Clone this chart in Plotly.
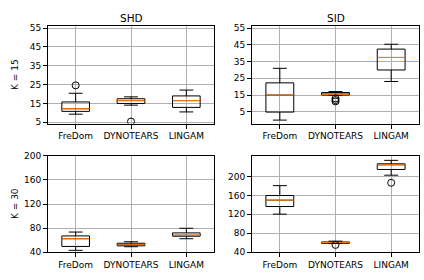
import plotly.graph_objects as go

methods = ["FreDom", "DYNOTEARS", "LINGAM"]
col_titles = ["SHD", "SID"]
row_titles = ["K = 15", "K = 30"]

# K = 15, SHD
shd15_q1 = [10.8, 15.0, 12.9]
shd15_med = [12.2, 16.5, 16.5]
shd15_q3 = [15.8, 17.5, 19.0]
shd15_lo = [9.3, 14.1, 10.5]
shd15_hi = [20.4, 18.5, 22.1]
shd15_out = [[24.6], [5.4], []]

# K = 15, SID
sid15_q1 = [4.8, 15.0, 30.0]
sid15_med = [15.0, 15.4, 37.5]
sid15_q3 = [22.3, 16.5, 42.5]
sid15_lo = [0.0, 15.0, 23.1]
sid15_hi = [31.0, 17.1, 45.4]
sid15_out = [[], [13.0, 12.0, 11.2], []]

# K = 30, SHD
shd30_q1 = [49.5, 50.5, 66.5]
shd30_med = [62.3, 52.3, 68.0]
shd30_q3 = [67.0, 54.8, 72.0]
shd30_lo = [43.0, 49.0, 62.3]
shd30_hi = [73.4, 57.3, 79.7]
shd30_out = [[], [], []]

# K = 30, SID
sid30_q1 = [136.5, 58.7, 214.9]
sid30_med = [150.0, 60.3, 225.0]
sid30_q3 = [159.8, 61.5, 226.9]
sid30_lo = [120.4, 58.7, 202.8]
sid30_hi = [180.7, 63.3, 234.2]
sid30_out = [[], [55.3], [186.7]]

yticks_top = [5, 15, 25, 35, 45, 55]
yticks_bot = [40, 80, 120, 160, 200]

panels = [
    (shd15_q1, shd15_med, shd15_q3, shd15_lo, shd15_hi, shd15_out, [4.3, 56.0], yticks_top),
    (sid15_q1, sid15_med, sid15_q3, sid15_lo, sid15_hi, sid15_out, [-2.1, 56.2], yticks_top),
    (shd30_q1, shd30_med, shd30_q3, shd30_lo, shd30_hi, shd30_out, [40, 200], yticks_bot),
    (sid30_q1, sid30_med, sid30_q3, sid30_lo, sid30_hi, sid30_out, [40, 243.6], yticks_bot),
]

W, H = 424, 280


def px_x(X):
    return X / W


def px_y(Y):
    return 1 - Y / H


xdoms = [[px_x(48), px_x(214)], [px_x(252), px_x(419)]]
ydoms = [[px_y(123), px_y(22)], [px_y(256.3), px_y(156.5)]]

FONT = "DejaVu Sans"
TICK = 9
BOXW = 0.5
pos = [1, 2, 3]

fig = go.Figure()
layout = dict(
    width=W, height=H, margin=dict(l=0, r=0, t=0, b=0),
    paper_bgcolor="white", plot_bgcolor="white", showlegend=False,
    font=dict(family=FONT, size=TICK, color="black"),
)

for i, (q1, med, q3, lo, hi, outs, yr, yt) in enumerate(panels):
    r, c = divmod(i, 2)
    n = i + 1
    xa = "x" if n == 1 else f"x{n}"
    ya = "y" if n == 1 else f"y{n}"
    fig.add_trace(go.Box(
        x=pos, q1=q1, median=med, q3=q3, lowerfence=lo, upperfence=hi,
        width=BOXW, whiskerwidth=0.5, fillcolor="rgba(0,0,0,0)",
        line=dict(color="black", width=1), boxpoints=False,
        xaxis=xa, yaxis=ya, hoverinfo="skip",
    ))
    for p, m in zip(pos, med):
        fig.add_trace(go.Scatter(
            x=[p - BOXW / 2, p + BOXW / 2], y=[m, m], mode="lines",
            line=dict(color="#ff7f0e", width=1), xaxis=xa, yaxis=ya, hoverinfo="skip",
        ))
    for p, o in zip(pos, outs):
        if o:
            fig.add_trace(go.Scatter(
                x=[p] * len(o), y=o, mode="markers",
                marker=dict(symbol="circle-open", size=7, color="black", line=dict(width=1)),
                xaxis=xa, yaxis=ya, hoverinfo="skip",
            ))
    axcommon = dict(showline=True, linecolor="black", linewidth=1, mirror=True,
                    ticks="outside", ticklen=4, tickcolor="black", tickwidth=1,
                    showgrid=True, gridcolor="#b0b0b0", gridwidth=1, zeroline=False,
                    tickfont=dict(family=FONT, size=TICK, color="black"))
    layout["xaxis" if n == 1 else f"xaxis{n}"] = dict(
        domain=xdoms[c], anchor=ya, range=[0.5, 3.5], tickvals=pos, ticktext=methods,
        tickangle=0, **axcommon)
    layout["yaxis" if n == 1 else f"yaxis{n}"] = dict(
        domain=ydoms[r], anchor=xa, range=yr, tickvals=yt, **axcommon)

ann = []
for c, t in enumerate(col_titles):
    ann.append(dict(text=t, x=(xdoms[c][0] + xdoms[c][1]) / 2, y=px_y(13),
                    xref="paper", yref="paper", showarrow=False,
                    font=dict(family=FONT, size=10.5, color="black"),
                    xanchor="center", yanchor="middle"))
for r, t in enumerate(row_titles):
    ann.append(dict(text=t, x=px_x(15), y=(ydoms[r][0] + ydoms[r][1]) / 2,
                    xref="paper", yref="paper", showarrow=False, textangle=-90,
                    font=dict(family=FONT, size=TICK, color="black"),
                    xanchor="center", yanchor="middle"))
layout["annotations"] = ann
fig.update_layout(**layout)
fig.write_html("out.html", config={"displayModeBar": False},
               post_script="document.body.style.margin='0';document.body.style.overflow='hidden';")
